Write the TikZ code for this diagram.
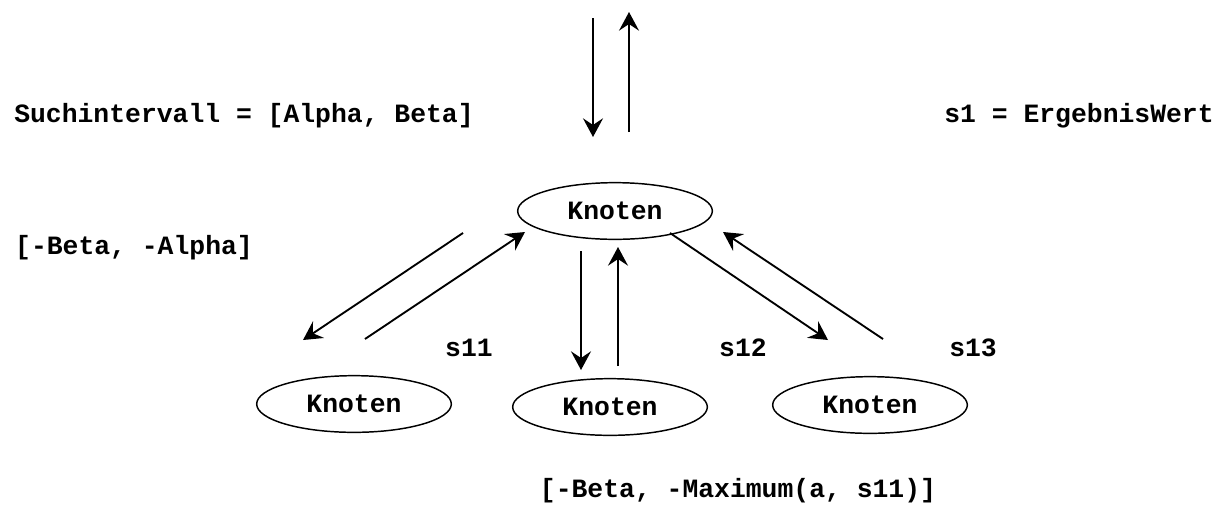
\documentclass[tikz,border=0pt]{standalone}
\usepackage{fontspec}
\setmonofont{Liberation Mono}
\usetikzlibrary{arrows.meta,shapes.geometric}
\begin{document}
\begin{tikzpicture}[x=0.75pt,y=-0.75pt,
  every node/.style={font=\ttfamily\bfseries\fontsize{19.8pt}{22pt}\selectfont},
  knoten/.style={draw,ellipse,line width=1.1pt,minimum width=146pt,minimum height=42.5pt,inner sep=0pt},
  lbl/.style={anchor=base,inner sep=0pt},
  pfeil/.style={line width=1.4pt,-{Stealth[length=14pt,width=15pt,inset=5pt]}}]
\useasboundingbox (0,0) rectangle (1226,511);

% tree nodes
\node[knoten] (root) at (615,211) {Knoten};
\node[knoten] (k1) at (354,404) {Knoten};
\node[knoten] (k2) at (610,407) {Knoten};
\node[knoten] (k3) at (870,405) {Knoten};

% text labels
\node[lbl] (such) at (244,122) {Suchintervall = [Alpha, Beta]};
\node[lbl] (erg) at (1079,122) {s1 = ErgebnisWert};
\node[lbl] (neg) at (134,254) {[-Beta, -Alpha]};
\node[lbl] (s11) at (469,356) {s11};
\node[lbl] (s12) at (743,356) {s12};
\node[lbl] (s13) at (973,356) {s13};
\node[lbl] (maxi) at (738,497) {[-Beta, -Maximum(a, s11)]};

% arrow end points
\coordinate (inS) at (593,18);   \coordinate (inE) at (593,137);
\coordinate (outS) at (629,132); \coordinate (outE) at (629,12);
\coordinate (aS) at (463,233);   \coordinate (aE) at (303,340);
\coordinate (bS) at (365,339);   \coordinate (bE) at (525,232);
\coordinate (cS) at (581,251);   \coordinate (cE) at (581,370);
\coordinate (dS) at (618,366);   \coordinate (dE) at (618,247);
\coordinate (eS) at (670,233);   \coordinate (eE) at (828,340);
\coordinate (fS) at (883,339);   \coordinate (fE) at (723,232);

% calls and returns
\draw[pfeil] (inS) -- (inE);
\draw[pfeil] (outS) -- (outE);
\draw[pfeil] (aS) -- (aE);
\draw[pfeil] (bS) -- (bE);
\draw[pfeil] (cS) -- (cE);
\draw[pfeil] (dS) -- (dE);
\draw[pfeil] (eS) -- (eE);
\draw[pfeil] (fS) -- (fE);
\end{tikzpicture}
\end{document}
